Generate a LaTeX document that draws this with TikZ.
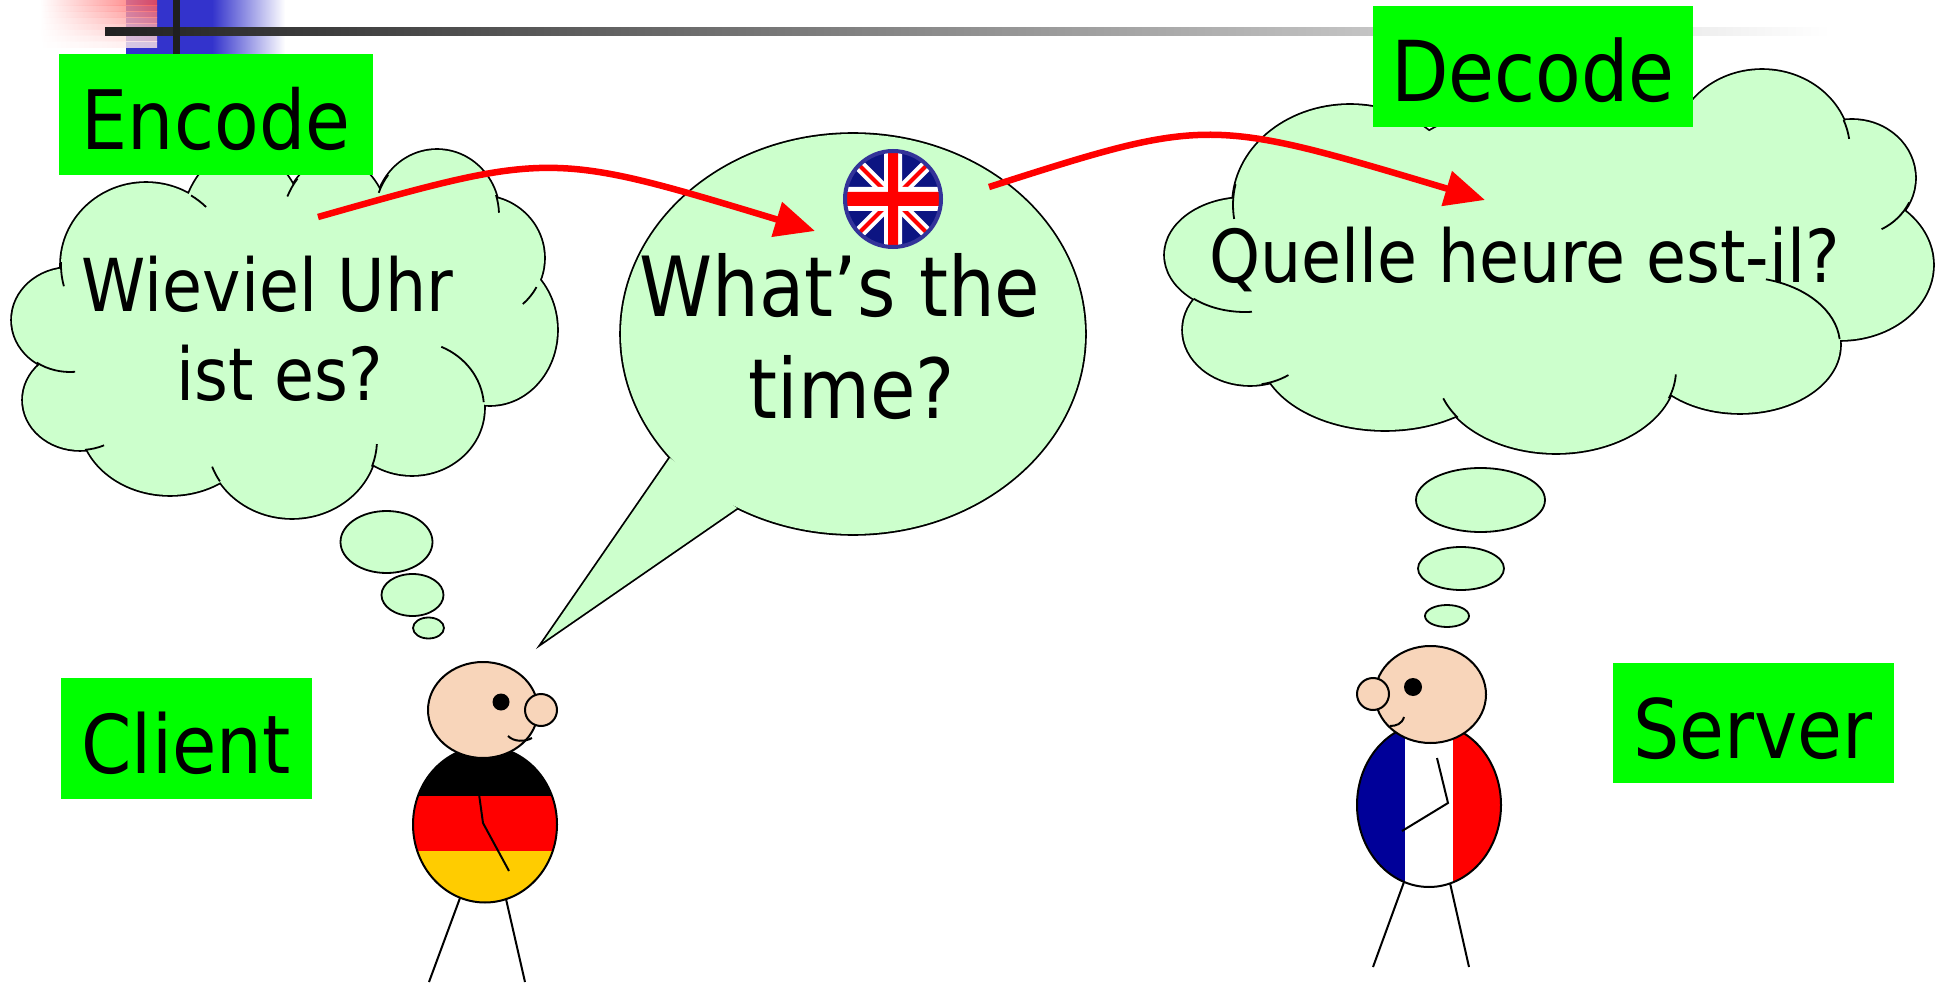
\documentclass[tikz,border=0pt]{standalone}
\usepackage{fontspec}
\setmainfont{DejaVu Sans}[FakeStretch=0.89]
\usetikzlibrary{arrows.meta}

\definecolor{cloudgreen}{RGB}{204,255,204}
\definecolor{taggreen}{RGB}{0,255,0}
\definecolor{skin}{RGB}{248,213,186}
\definecolor{barblue}{RGB}{51,51,204}
\definecolor{frblue}{RGB}{0,0,153}
\definecolor{degold}{RGB}{255,204,0}
\definecolor{uknavy}{RGB}{12,20,130}
\definecolor{ukring}{RGB}{51,51,153}

\tikzset{
    edge/.style={line width=1.8pt},
    figline/.style={line width=2pt},
    bubble/.style={draw, fill=cloudgreen, line width=1.8pt},
    tag/.style={fill=taggreen, inner sep=0pt, text height=70pt, text depth=0pt, minimum height=121pt},
    say/.style={anchor=base, inner sep=0pt},
    relay/.style={red, line width=6.5pt, -{Triangle[length=40pt, width=35pt]}},
}

% puffs: cx/cy/rx/ry, outline of the union only
\newcommand\puffcloud[1]{%
    \foreach \cx/\cy/\rx/\ry in {#1}
        \draw[line width=3.6pt] (\cx,\cy) ellipse[x radius=\rx, y radius=\ry];
    \foreach \cx/\cy/\rx/\ry in {#1}
        \fill[cloudgreen] (\cx,\cy) ellipse[x radius=\rx, y radius=\ry];
}
% short inner seams: cx/cy/rx/ry/start/end
\newcommand\puffseam[1]{%
    \foreach \cx/\cy/\rx/\ry/\a/\b in {#1}
        \draw[edge] (\cx,\cy) ++({\a}:{\rx} and {\ry}) arc[start angle=\a, end angle=\b, x radius=\rx, y radius=\ry];
}

\begin{document}
\begin{tikzpicture}[x=1pt, y=-1pt]
    \useasboundingbox (0,0) rectangle (1936,984);

    \fill[barblue] (126,0) rectangle (212,54);
    \shade[left color=barblue, right color=white] (212,0) rectangle (285,54);
    \foreach \i/\k in {0/70, 1/62, 2/54, 3/45, 4/36, 5/27, 6/18, 7/10}
        \shade[left color=white, right color=red!\k, opacity=0.8] (40,6*\i) rectangle (157,6*\i+6);
    \shade[left color=black!87, middle color=black!35, right color=white] (105,28) rectangle (1830,36);
    \fill[black!88] (173,0) rectangle (180,54);

    \puffcloud{146/265/85/82, 243/240/63/90, 335/235/55/77, 437/215/62/65, 480/258/64/62,
        490/330/67/75, 412/408/72/67, 292/440/85/78, 170/420/90/75, 80/400/57/50,
        70/320/58/52, 290/330/190/120}
    \puffseam{146/265/85/82/182/165, 146/265/85/82/-58/-45, 335/235/55/77/-150/-133,
        437/215/62/65/-160/-142, 437/215/62/65/-18/-2, 480/258/64/62/28/48,
        412/408/72/67/-66/-5, 292/440/85/78/3/20, 292/440/85/78/160/148,
        80/400/57/50/85/65, 70/320/58/52/125/85}

    \puffcloud{1350/205/117/100, 1560/200/180/100, 1762/150/88/80, 1852/178/63/58,
        1840/265/93/75, 1740/345/100/68, 1556/370/120/83, 1385/350/125/80,
        1250/330/67/55, 1245/255/80/57, 1560/280/260/100}
    \puffseam{1350/205/117/100/192/172, 1762/150/88/80/-22/-8, 1852/178/63/58/25/62,
        1740/345/100/68/-75/-5, 1556/370/120/83/3/20, 1556/370/120/83/160/145,
        1250/330/67/55/80/55, 1245/255/80/57/130/85}

    \draw[bubble] (386.5,542) ellipse[x radius=46, y radius=31];
    \draw[bubble] (412.5,595) ellipse[x radius=31, y radius=21];
    \draw[bubble] (428.5,628) ellipse[x radius=15.5, y radius=10.5];
    \draw[bubble] (1480.5,500) ellipse[x radius=64.5, y radius=32];
    \draw[bubble] (1461,568.5) ellipse[x radius=43, y radius=21.5];
    \draw[bubble] (1447,616) ellipse[x radius=22, y radius=11];

    \draw[line width=3.6pt] (853,334) ellipse[x radius=232, y radius=200];
    \draw[line width=3.6pt] (670,458) -- (543,642) -- (737,508) -- cycle;
    \fill[cloudgreen] (853,334) ellipse[x radius=232, y radius=200];
    \fill[cloudgreen] (670,458) -- (543,642) -- (737,508) -- cycle;

    \begin{scope}[shift={(893,199)}]
        \clip (0,0) circle[radius=48];
        \fill[uknavy] (-50,-50) rectangle (50,50);
        \draw[white, line width=12pt] (-50,-50) -- (50,50) (-50,50) -- (50,-50);
        \draw[red, line width=4pt] (-50,-50) -- (50,50) (-50,50) -- (50,-50);
        \fill[white] (-9,-50) rectangle (9,50) (-50,-12) rectangle (50,12);
        \fill[red] (-5,-50) rectangle (5,50) (-50,-7) rectangle (50,7);
    \end{scope}
    \draw[ukring, line width=4pt] (893,199) circle[radius=48];

    \node[tag, minimum width=314pt, font=\fontsize{82}{82}\selectfont] (encode) at (216,114.5) {Encode};
    \node[tag, minimum width=320pt, font=\fontsize{84}{84}\selectfont] (decode) at (1533,66.5) {Decode};
    \node[tag, minimum width=251pt, font=\fontsize{81}{81}\selectfont] (client) at (186,738.5) {Client};
    \node[tag, minimum width=281pt, minimum height=120pt, font=\fontsize{82}{82}\selectfont] (server) at (1753,723) {Server};

    \node[say, font=\fontsize{73}{73}\selectfont] (german1) at (267.5,311.7) {Wieviel Uhr};
    \node[say, font=\fontsize{73}{73}\selectfont] (german2) at (280,400) {ist es?};
    \node[say, font=\fontsize{83}{83}\selectfont] (english1) at (840,316.7) {What’s the};
    \node[say, font=\fontsize{83}{83}\selectfont] (english2) at (852,418) {time?};
    \node[say, font=\fontsize{73}{73}\selectfont] (french) at (1524.5,283) {Quelle heure est-il?};

    \coordinate (german-out) at (318,217);
    \coordinate (english-in) at (815,231);
    \coordinate (english-out) at (989,187);
    \coordinate (french-in) at (1485,200);
    \draw[relay] (german-out) .. controls (551,151) .. (english-in);
    \draw[relay] (english-out) .. controls (1208,117) .. (french-in);

    \draw[figline] (460,898) -- (429,982) (506,899) -- (525,982);
    \begin{scope}
        \clip (485,824.5) ellipse[x radius=72, y radius=78];
        \fill[black] (410,740) rectangle (560,796);
        \fill[red] (410,796) rectangle (560,851);
        \fill[degold] (410,851) rectangle (560,905);
    \end{scope}
    \draw[figline] (485,824.5) ellipse[x radius=72, y radius=78];
    \draw[figline] (479,794) -- (483,823) -- (509,871);
    \filldraw[figline, fill=skin] (483,710) ellipse[x radius=55, y radius=48];
    \filldraw[figline, fill=skin] (541,710) circle[radius=16];
    \fill (501,702) circle[radius=8.5];
    \draw[figline] (508,736) .. controls (514,742) and (525,742) .. (532,738);

    \draw[figline] (1404,882) -- (1373,967) (1450,883) -- (1469,967);
    \begin{scope}
        \clip (1429,805) ellipse[x radius=72, y radius=82];
        \fill[frblue] (1350,720) rectangle (1405,890);
        \fill[white] (1405,720) rectangle (1453,890);
        \fill[red] (1453,720) rectangle (1505,890);
    \end{scope}
    \draw[figline] (1429,805) ellipse[x radius=72, y radius=82];
    \draw[figline] (1437,758) -- (1448,803) -- (1402,831);
    \filldraw[figline, fill=skin] (1430.5,694.5) ellipse[x radius=55.5, y radius=48.5];
    \filldraw[figline, fill=skin] (1373,694) circle[radius=16];
    \fill (1413,687) circle[radius=9];
    \draw[figline] (1404,717) .. controls (1402,724) and (1396,726) .. (1390,726);
\end{tikzpicture}
\end{document}
